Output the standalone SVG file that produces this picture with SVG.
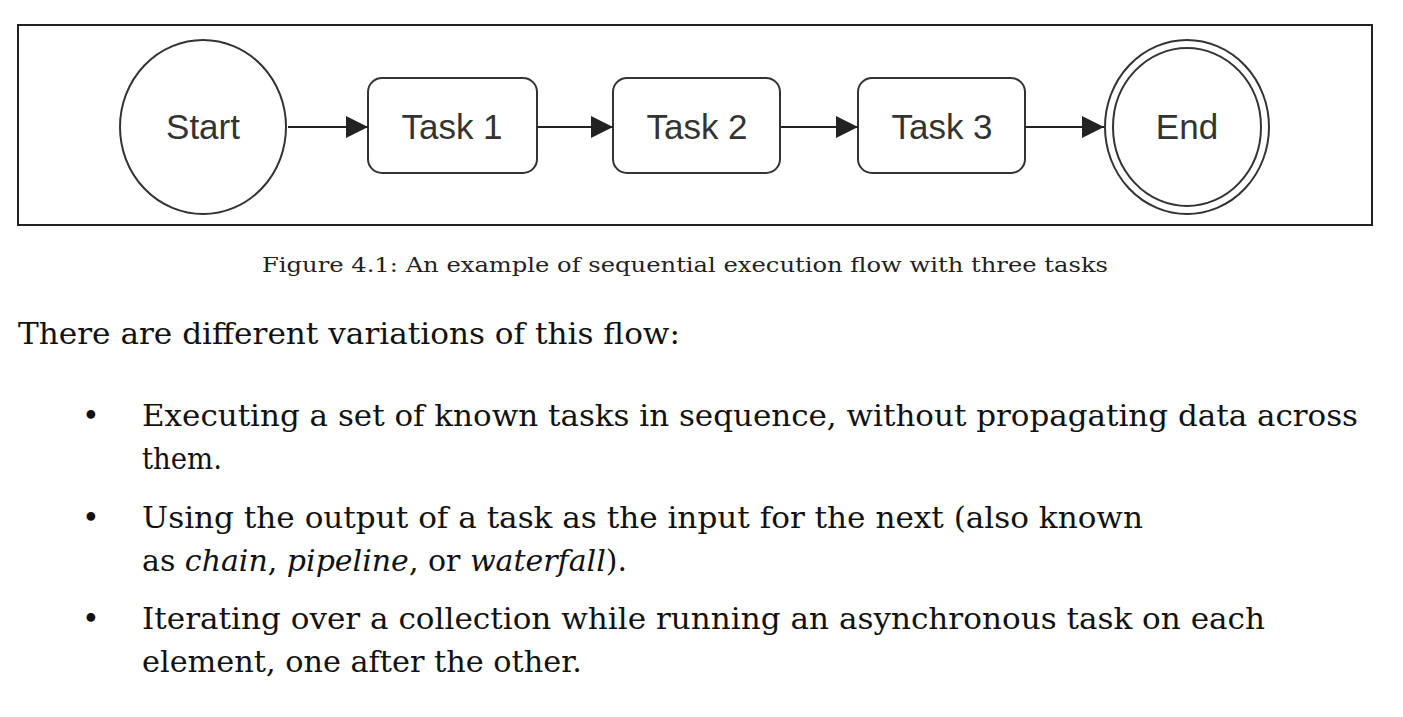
<svg xmlns="http://www.w3.org/2000/svg" width="1403" height="717" viewBox="0 0 1403 717">
<style>
.n{fill:#fff;stroke:#333;stroke-width:2}
.l{font-family:"Liberation Sans",sans-serif;font-size:35px;fill:#333;text-anchor:middle}
.b{font-family:"DejaVu Serif","Liberation Serif",serif;font-size:30px;fill:#111}
.c{stroke:#222;stroke-width:2;fill:none}
</style>
<defs><marker id="a2" viewBox="0 0 10 10" markerWidth="22" markerHeight="22" refX="10" refY="5" orient="auto" markerUnits="userSpaceOnUse"><path d="M0,0L10,5L0,10z" fill="#222"/></marker></defs>
<rect width="1403" height="717" fill="#fff"/>
<rect x="18" y="25" width="1354" height="200" fill="#fff" stroke="#222" stroke-width="2"/>
<g id="start"><ellipse class="n" cx="203" cy="127" rx="83" ry="87"/><text class="l" x="203" y="139">Start</text></g>
<g id="task1"><rect class="n" x="368" y="78" width="169" height="95" rx="14"/><text class="l" x="452" y="139">Task 1</text></g>
<g id="task2"><rect class="n" x="613" y="78" width="167" height="95" rx="14"/><text class="l" x="697" y="139">Task 2</text></g>
<g id="task3"><rect class="n" x="858" y="78" width="167" height="95" rx="14"/><text class="l" x="942" y="139">Task 3</text></g>
<g id="end"><ellipse class="n" cx="1187" cy="127" rx="82" ry="87"/><ellipse class="n" cx="1187" cy="127" rx="74" ry="79"/><text class="l" x="1187" y="139">End</text></g>
<g id="connectors">
<path class="c" marker-end="url(#a2)" d="M288,127H368"/>
<path class="c" marker-end="url(#a2)" d="M538,127H613"/>
<path class="c" marker-end="url(#a2)" d="M781,127H858"/>
<path class="c" marker-end="url(#a2)" d="M1026,127H1104"/>
</g>
<text x="262" y="272" font-family="DejaVu Serif,Liberation Serif,serif" font-size="20" fill="#222" textLength="846" lengthAdjust="spacingAndGlyphs">Figure 4.1: An example of sequential execution flow with three tasks</text>
<g class="b">
<text x="18" y="344" textLength="662" lengthAdjust="spacingAndGlyphs">There are different variations of this flow:</text>
<text x="82" y="426">•</text><text x="142" y="426" textLength="1216" lengthAdjust="spacingAndGlyphs">Executing a set of known tasks in sequence, without propagating data across</text>
<text x="142" y="469" textLength="80" lengthAdjust="spacingAndGlyphs">them.</text>
<text x="82" y="528">•</text><text x="142" y="528" textLength="1001" lengthAdjust="spacingAndGlyphs">Using the output of a task as the input for the next (also known</text>
<text x="142" y="571">as <tspan font-style="italic">chain</tspan>, <tspan font-style="italic">pipeline</tspan>, or <tspan font-style="italic">waterfall</tspan>).</text>
<text x="82" y="629">•</text><text x="142" y="629" textLength="1123" lengthAdjust="spacingAndGlyphs">Iterating over a collection while running an asynchronous task on each</text>
<text x="142" y="672" textLength="440" lengthAdjust="spacingAndGlyphs">element, one after the other.</text>
</g>
</svg>
